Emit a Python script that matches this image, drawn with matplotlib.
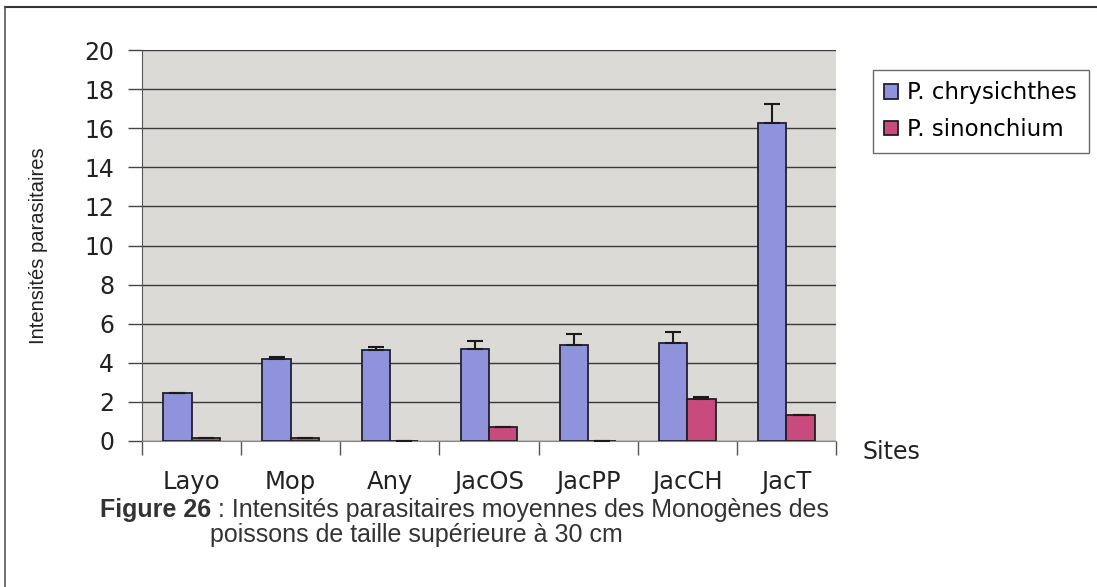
import matplotlib.pyplot as plt
import numpy as np
from matplotlib.lines import Line2D

# Data
sites = ['Layo', 'Mop', 'Any', 'JacOS', 'JacPP', 'JacCH', 'JacT']
chrys = [2.45, 4.2, 4.63, 4.72, 4.9, 5.0, 16.25]
chrys_err = [0.0, 0.1, 0.2, 0.4, 0.55, 0.55, 1.0]
sinon = [0.15, 0.15, 0.0, 0.73, 0.0, 2.15, 1.33]
sinon_err = [0.0, 0.0, 0.0, 0.0, 0.0, 0.1, 0.0]
yticks = [0, 2, 4, 6, 8, 10, 12, 14, 16, 18, 20]

# the scan is stretched sideways, DejaVu (wide) is closest for the chart text
plt.rcParams['font.family'] = ['DejaVu Sans']

W, H = 1097, 587
fig = plt.figure(figsize=(W / 100, H / 100), dpi=100)
fig.patch.set_facecolor('white')

# plot area in pixel coords
x0, x1, ytop, ybot = 142, 836, 50, 441
ax = fig.add_axes([x0 / W, 1 - ybot / H, (x1 - x0) / W, (ybot - ytop) / H])
ax.set_facecolor('#dcdad7')

x = np.arange(len(sites))
w = 1 / 3.5
blue = '#8f93db'
pink = '#c94a7c'
ax.bar(x - w / 2, chrys, w, color=blue, edgecolor='#202030', linewidth=1.3,
       yerr=[np.zeros(len(sites)), chrys_err], capsize=6,
       error_kw=dict(elinewidth=1.5, capthick=1.5, ecolor='#1a1a1a'),
       label='P. chrysichthes', zorder=3)
ax.bar(x + w / 2, sinon, w, color=pink, edgecolor='#202020', linewidth=1.3,
       yerr=[np.zeros(len(sites)), sinon_err], capsize=6,
       error_kw=dict(elinewidth=1.5, capthick=1.5, ecolor='#1a1a1a'),
       label='P. sinonchium', zorder=3)

ax.set_xlim(-0.5, len(sites) - 0.5)
ax.set_ylim(0, 20)
ax.set_yticks(yticks)
ax.yaxis.grid(True, color='#3a3a3a', linewidth=1.0, zorder=0)
ax.set_axisbelow(True)
ax.tick_params(axis='y', labelsize=17, length=10, width=1, color='#444444',
               pad=10, labelcolor='#222222')

# category boundary ticks + centered labels
ax.set_xticks(np.arange(len(sites) + 1) - 0.5)
ax.set_xticklabels([])
ax.set_xticks(x, minor=True)
ax.set_xticklabels(sites, minor=True, fontsize=17.5, color='#222222')
ax.tick_params(axis='x', which='major', length=10, width=1, color='#555555')
ax.tick_params(axis='x', which='minor', length=0, pad=21)

for s in ['top', 'right']:
    ax.spines[s].set_visible(False)
ax.spines['left'].set_color('#555555')
ax.spines['bottom'].set_color('#888888')

ax.set_ylabel('Intensités parasitaires', fontsize=14.5, color='#222222',
              labelpad=26, family='Liberation Sans')

leg = fig.legend(loc='upper left', bbox_to_anchor=(873 / W, 1 - 70 / H),
                 fontsize=16.5, frameon=True, fancybox=False,
                 edgecolor='#444444', handlelength=0.6, handleheight=0.6,
                 handletextpad=0.4, labelspacing=0.6, borderpad=0.5,
                 borderaxespad=0)
leg.get_frame().set_linewidth(1.0)

fig.text(862 / W, 1 - 452 / H, 'Sites', fontsize=17, va='center',
         color='#222222')

# caption
cap = dict(fontsize=18, va='baseline', color='#333333', family='Liberation Sans')
fig.text(211 / W, 1 - 517 / H, 'Figure 26', fontweight='bold', ha='right', **cap)
fig.text(218 / W, 1 - 517 / H,
         ': Intensités parasitaires moyennes des Monogènes des', **cap)
fig.text(210 / W, 1 - 542 / H, 'poissons de taille supérieure à 30 cm', **cap)

# outer frame of the scanned page
fig.add_artist(Line2D([5 / W, 1], [1 - 7 / H, 1 - 7 / H],
                      transform=fig.transFigure, color='#333333', lw=1.5))
fig.add_artist(Line2D([5 / W, 5 / W], [1 - 7 / H, 0],
                      transform=fig.transFigure, color='#555555', lw=1.2))

fig.savefig('out.png', dpi=100)
